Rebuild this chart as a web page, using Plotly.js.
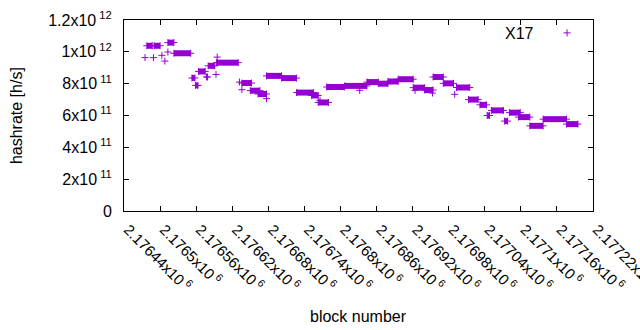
<!DOCTYPE html>
<html><head><meta charset="utf-8">
<script src="https://cdn.plot.ly/plotly-3.0.1.min.js"></script>
<style>html,body{margin:0;padding:0;background:#fff}</style>
</head><body><div id="chart" style="width:640px;height:330px"></div>
<script>
// runs of constant hashrate (block start, block end, hashrate h/s)
const runStart = [2176478,2176490,2176513,2176523,2176553,2176559,2176564,2176577,2176580,2176594,2176636,2176650,2176663,2176677,2176702,2176727,2176752,2176763,2176777,2176807,2176844,2176863,2176879,2176896,2176921,2176940,2176954,2176971,2176993,2177013,2177032,2177044,2177051,2177073,2177081,2177096,2177115,2177137,2177176];
const runEnd   = [2176487,2176500,2176523,2176551,2176558,2176563,2176575,2176579,2176591,2176630,2176652,2176666,2176677,2176702,2176727,2176755,2176763,2176780,2176807,2176844,2176863,2176879,2176896,2176921,2176940,2176954,2176971,2176988,2177015,2177029,2177043,2177048,2177071,2177078,2177099,2177115,2177137,2177176,2177195];
const runValue = [1.038e12,1.038e12,1.058e12,0.991e12,0.836e12,0.789e12,0.877e12,0.842e12,0.912e12,0.932e12,0.804e12,0.756e12,0.735e12,0.849e12,0.835e12,0.744e12,0.726e12,0.682e12,0.779e12,0.786e12,0.810e12,0.800e12,0.814e12,0.828e12,0.775e12,0.760e12,0.842e12,0.802e12,0.776e12,0.700e12,0.667e12,0.600e12,0.632e12,0.565e12,0.618e12,0.590e12,0.535e12,0.577e12,0.546e12];
// isolated blocks
const pointBlock = [2176475,2176489,2176503,2176508,2176513,2176593,2176595,2176632,2176636,2176677,2176766,2176832,2176924,2176953,2176990];
const pointValue = [0.9635e12,0.9635e12,0.978e12,0.942e12,0.999e12,0.858e12,0.967e12,0.810e12,0.762e12,0.706e12,0.695e12,0.758e12,0.758e12,0.741e12,0.733e12];

const xTickVals = [2176440,2176500,2176560,2176620,2176680,2176740,2176800,2176860,2176920,2176980,2177040,2177100,2177160,2177220];
const xTickText = ["2.17644x10<sup> 6</sup>","2.1765x10<sup> 6</sup>","2.17656x10<sup> 6</sup>","2.17662x10<sup> 6</sup>","2.17668x10<sup> 6</sup>","2.17674x10<sup> 6</sup>","2.1768x10<sup> 6</sup>","2.17686x10<sup> 6</sup>","2.17692x10<sup> 6</sup>","2.17698x10<sup> 6</sup>","2.17704x10<sup> 6</sup>","2.1771x10<sup> 6</sup>","2.17716x10<sup> 6</sup>","2.17722x10<sup> 6</sup>"];
const yTickVals = [0,2e11,4e11,6e11,8e11,1e12,1.2e12];
const yTickText = ["0","2x10<sup> 11</sup>","4x10<sup> 11</sup>","6x10<sup> 11</sup>","8x10<sup> 11</sup>","1x10<sup> 12</sup>","1.2x10<sup> 12</sup>"];
const seriesName = "X17";

const COLOR = "#9400d3";
const lx = [], ly = [], mx = [], my = [];
for (let i = 0; i < runStart.length; i++) {
  lx.push(runStart[i], runEnd[i], null);
  ly.push(runValue[i], runValue[i], null);
  mx.push(runStart[i], runEnd[i]);
  my.push(runValue[i], runValue[i]);
}
for (let i = 0; i < pointBlock.length; i++) { mx.push(pointBlock[i]); my.push(pointValue[i]); }

const FONT = "Liberation Sans, Arial, sans-serif";
const FS = 16;
const traces = [
  {x: lx, y: ly, mode: "lines", line: {color: COLOR, width: 6}, showlegend: false, connectgaps: false, hoverinfo: "skip"},
  {x: mx, y: my, mode: "markers", name: " ", marker: {symbol: "cross-thin-open", size: 5, color: COLOR, line: {color: COLOR, width: 1}}, showlegend: true}
];
const layout = {
  width: 640, height: 330,
  margin: {l: 124, r: 47, t: 20, b: 119},
  paper_bgcolor: "#fff", plot_bgcolor: "#fff",
  font: {family: FONT, size: FS, color: "#000"},
  xaxis: {range: [2176440, 2177220], tickvals: xTickVals, ticktext: xTickText, tickangle: 45,
    ticks: "inside", ticklen: 5, tickcolor: "#000", showline: true, linecolor: "#000", linewidth: 1,
    mirror: "ticks", showgrid: false, zeroline: false, ticklabelstandoff: 3, ticklabelshift: 4, ticklabeloverflow: "allow",
    tickfont: {family: FONT, size: 15, color: "#000"}},
  yaxis: {range: [0, 1.2e12], tickvals: yTickVals, ticktext: yTickText,
    ticks: "inside", ticklen: 5, tickcolor: "#000", showline: true, linecolor: "#000", linewidth: 1,
    mirror: "ticks", showgrid: false, zeroline: false, ticklabelstandoff: 8, ticklabeloverflow: "allow",
    tickfont: {family: FONT, size: FS, color: "#000"}},
  showlegend: true,
  legend: {x: 0.902, xanchor: "left", y: 1.021, yanchor: "top", bgcolor: "rgba(0,0,0,0)",
    font: {family: FONT, size: FS}},
  annotations: [
    {text: seriesName, xref: "paper", yref: "paper", x: 0.878, y: 0.93, xanchor: "right", yanchor: "middle", showarrow: false, font: {family: FONT, size: FS, color: "#000"}},
    {text: "block number", xref: "paper", yref: "paper", x: 0.5, y: -0.55, xanchor: "center", yanchor: "middle", showarrow: false, font: {family: FONT, size: FS, color: "#000"}},
    {text: "hashrate [h/s]", xref: "paper", yref: "paper", x: -0.229, y: 0.5, xanchor: "center", yanchor: "middle", textangle: -90, showarrow: false, font: {family: FONT, size: FS, color: "#000"}}
  ]
};
Plotly.newPlot("chart", traces, layout, {displayModeBar: false, staticPlot: true});
</script></body></html>
